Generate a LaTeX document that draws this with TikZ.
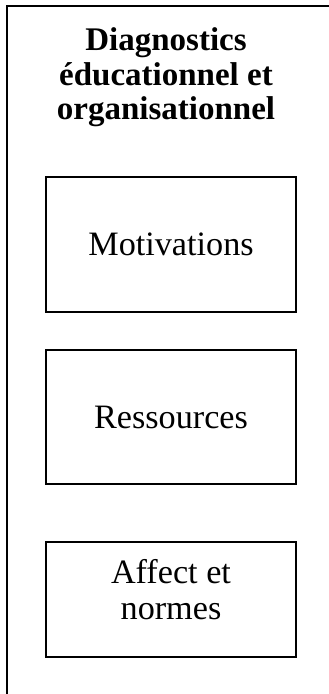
\documentclass[tikz,border=0pt]{standalone}
\usepackage{fontspec}
\setmainfont{Liberation Serif}
\begin{document}
\begin{tikzpicture}[x=1pt,y=-1pt,
  frame/.style={line width=2pt,black},
  stagebox/.style={draw=black,line width=1.5pt,rectangle,minimum width=250pt,
    inner sep=0pt,align=center,font=\fontsize{34.2}{36}\selectfont},
  heading/.style={align=center,inner sep=0pt,
    font=\fontsize{33}{34.5}\selectfont\bfseries}]
  \useasboundingbox (0,0) rectangle (329,694);
  % outer panel (its right and bottom sides run past the page)
  \coordinate (fbl) at (7,700);
  \coordinate (ftl) at (7,6);
  \coordinate (ftr) at (340,6);
  \draw[frame] (fbl) -- (ftl) -- (ftr);
  % heading
  \node[heading,anchor=north] (title) at (166,27.5)
    {Diagnostics\\éducationnel et\\organisationnel};
  % stage boxes
  \node[stagebox,minimum height=135pt] (motiv) at (171,244.5) {Motivations};
  \node[stagebox,minimum height=134pt] (ress) at (171,417) {Ressources};
  \node[stagebox,minimum height=115pt,text depth=20pt] (affect) at (171,599.5)
    {Affect et\\normes};
\end{tikzpicture}
\end{document}
